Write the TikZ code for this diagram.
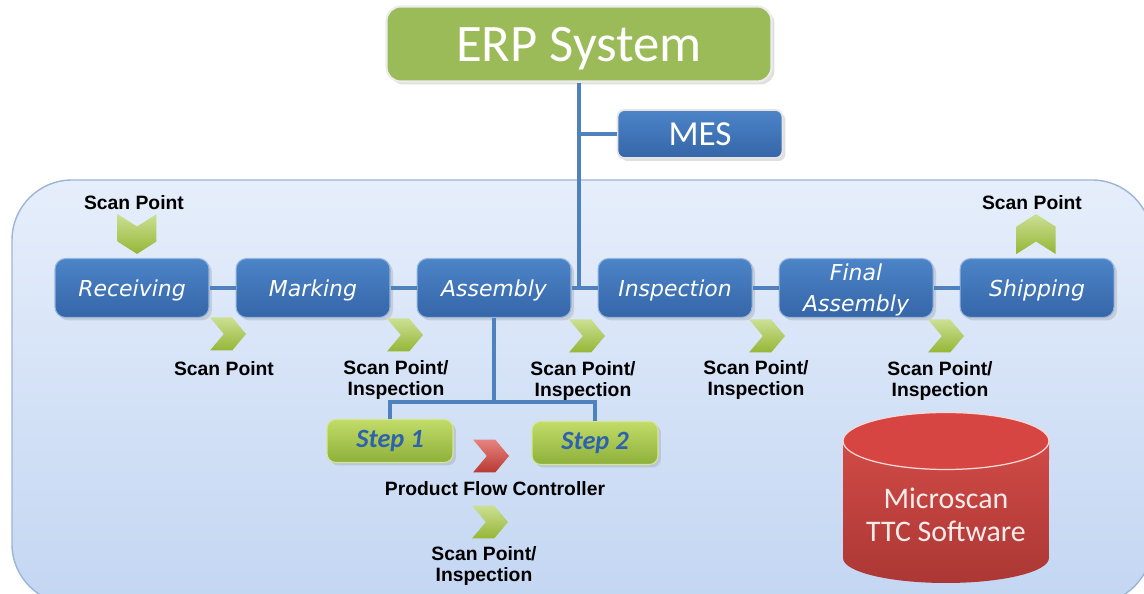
\documentclass[tikz,border=0pt]{standalone}
\usepackage{fontspec}
\setmainfont{Liberation Sans}
\newfontfamily\calfont{Carlito}
\newfontfamily\boxfont{DejaVu Sans}
\usepackage{tikz}
\usetikzlibrary{positioning,shapes.symbols,shadows}
\definecolor{erpgreen}{HTML}{9BBB59}
\definecolor{procblue}{HTML}{4C84C8}
\definecolor{procdark}{HTML}{3566A8}
\definecolor{linkblue}{HTML}{4F81BD}
\definecolor{stepgreen}{HTML}{C2DB68}
\definecolor{stepdark}{HTML}{8DB13A}
\definecolor{chevgreen}{HTML}{A2C63B}
\definecolor{flowred}{HTML}{D9423B}
\definecolor{dbred}{HTML}{D64541}
\definecolor{floortop}{HTML}{E6EEFB}
\definecolor{floorbot}{HTML}{C3D6F2}
\definecolor{floorline}{HTML}{9DB4D6}
\definecolor{steptext}{HTML}{2F62AE}

\begin{document}
\begin{tikzpicture}[x=0.02cm,y=-0.02cm,node distance=0.52cm,every node/.style={align=center,inner sep=0pt},soft/.style={drop shadow={opacity=0.25,shadow xshift=0.6mm,shadow yshift=-0.6mm}},erpbox/.style={draw=white!85!gray,line width=1.2pt,fill=erpgreen,rounded corners=8pt,minimum width=7.7cm,minimum height=1.5cm,text=white,text depth=0pt,font=\calfont\fontsize{30}{32}\selectfont,soft},mesbox/.style={draw=white!80!gray,line width=1pt,top color=procblue,bottom color=procdark,rounded corners=4pt,minimum width=3.3cm,minimum height=0.96cm,text=white,font=\calfont\fontsize{20}{22}\selectfont,soft},proc/.style={draw=procblue!60!white,line width=0.6pt,top color=procblue,bottom color=procdark,rounded corners=6pt,minimum width=3.08cm,minimum height=1.18cm,text=white,text depth=0pt,font=\boxfont\itshape\fontsize{12.5}{17.5}\selectfont,soft},stepbox/.style={draw=stepgreen!70!white,line width=0.6pt,top color=stepgreen,bottom color=stepdark,rounded corners=5pt,minimum width=2.52cm,minimum height=0.86cm,text=steptext,font=\calfont\bfseries\itshape\fontsize{15}{16}\selectfont,soft},chev/.style={signal,signal from=west,signal to=east,signal pointer angle=100,minimum width=0.72cm,minimum height=0.66cm,top color=chevgreen!55!white,bottom color=chevgreen!92!black},chevdown/.style={chev,signal from=north,signal to=south,signal pointer angle=115,minimum width=0.78cm,minimum height=0.3cm},chevup/.style={chev,signal from=south,signal to=north,signal pointer angle=115,minimum width=0.78cm,minimum height=0.3cm},scan/.style={font=\bfseries\fontsize{11}{12.5}\selectfont},link/.style={draw=linkblue,line width=2.3pt}]
\clip (0,0) rectangle (1144,594);
\path[top color=floortop,bottom color=floorbot,draw=floorline,line width=0.8pt,rounded corners=1.2cm] (12,180) rectangle (1152,604);
\node[erpbox] (erp) at (579,44) {ERP System}; \node[mesbox] (mes) at (700,134) {MES};
\node[proc] (recv) at (132,288) {Receiving}; \node[proc,right=of recv] (mark) {Marking};
\node[proc,right=of mark] (asm) {Assembly}; \node[proc,right=of asm] (insp) {Inspection};
\node[proc,right=of insp] (final) {Final\\Assembly}; \node[proc,right=of final] (ship) {Shipping};
\node[stepbox] (step1) at (390,441) {Step 1}; \node[stepbox] (step2) at (595,443) {Step 2};
\coordinate (hub) at (erp.south |- asm.east); \coordinate (mesjoin) at (erp.south |- mes.west);
\coordinate[below=1.68cm of asm.south] (split);
\draw[link] (erp.south) -- (hub);
\draw[link] (mesjoin) -- (mes.west);
\draw[link] (recv) -- (mark); \draw[link] (mark) -- (asm); \draw[link] (asm) -- (insp);
\draw[link] (insp) -- (final); \draw[link] (final) -- (ship);
\draw[link] (asm.south) -- (split);
\draw[link] (step1.north) |- (split) -| (step2.north);
\node[chevdown] (inchev) at (137,234) {}; \node[scan] (inlab) at (134,203) {Scan Point};
\node[chevup] (outchev) at (1036,234) {}; \node[scan] (outlab) at (1032,203) {Scan Point};
\node[chev] (c1) at (228,334) {}; \node[scan] (l1) at (224,369) {Scan Point};
\node[chev] (c2) at (405,335) {}; \node[scan] (l2) at (396,380) {Scan Point/\\Inspection};
\node[chev] (c3) at (587,336) {}; \node[scan] (l3) at (583,381) {Scan Point/\\Inspection};
\node[chev] (c4) at (767,336) {}; \node[scan] (l4) at (756,380) {Scan Point/\\Inspection};
\node[chev] (c5) at (946,336) {}; \node[scan] (l5) at (940,381) {Scan Point/\\Inspection};
\node[chev,top color=flowred!65!white,bottom color=flowred!85!black] (pfc) at (491,456) {}; \node[scan] (pfclab) at (495,489) {Product Flow Controller};
\node[chev] (c6) at (490,522) {}; \node[scan] (l6) at (484,566) {Scan Point/\\Inspection};
\path[top color=dbred!95!white,bottom color=dbred!80!black] (843,441) -- (843,558) arc[start angle=180,end angle=360,x radius=2.06cm,y radius=0.5cm] -- (1049,441) arc[start angle=0,end angle=180,x radius=2.06cm,y radius=0.57cm] -- cycle;
\draw[white!80!dbred,line width=0.7pt,fill=dbred] (946,441) ellipse[x radius=2.06cm,y radius=0.57cm];
\node[text=white!90!dbred,font=\calfont\fontsize{17}{19}\selectfont] (db) at (946,515) {Microscan\\TTC Software};
\end{tikzpicture}
\end{document}
